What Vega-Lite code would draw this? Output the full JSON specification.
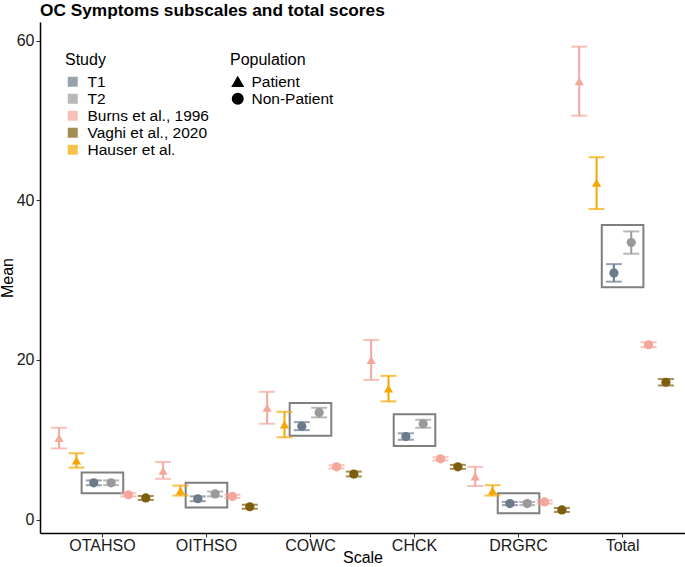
{
  "$schema": "https://vega.github.io/schema/vega-lite/v6.json",
  "autosize": {"type": "none"},
  "padding": {"left": 40, "top": 22, "right": 0, "bottom": 34},
  "width": 645,
  "height": 511,
  "background": "white",
  "title": {"text": "OC Symptoms subscales and total scores", "anchor": "start", "frame": "group", "fontSize": 17.3, "fontWeight": "bold", "color": "black", "offset": 3},
  "config": {
    "font": "Liberation Sans",
    "view": {"stroke": null},
    "axis": {"grid": false}
  },
  "datasets": {
    "pts": [
      {"Scale": "OTAHSO", "Study": "Burns et al., 1996", "Population": "Patient", "Group": "Burns-P", "Mean": 10.2, "Lower": 8.9, "Upper": 11.5},
      {"Scale": "OTAHSO", "Study": "Hauser et al.", "Population": "Patient", "Group": "Hauser-P", "Mean": 7.4, "Lower": 6.5, "Upper": 8.3},
      {"Scale": "OTAHSO", "Study": "T1", "Population": "Non-Patient", "Group": "T1", "Mean": 4.6, "Lower": 4.3, "Upper": 4.9},
      {"Scale": "OTAHSO", "Study": "T2", "Population": "Non-Patient", "Group": "T2", "Mean": 4.6, "Lower": 4.3, "Upper": 4.9},
      {"Scale": "OTAHSO", "Study": "Burns et al., 1996", "Population": "Non-Patient", "Group": "Burns-NP", "Mean": 3.1, "Lower": 2.9, "Upper": 3.3},
      {"Scale": "OTAHSO", "Study": "Vaghi et al., 2020", "Population": "Non-Patient", "Group": "Vaghi-NP", "Mean": 2.7, "Lower": 2.45, "Upper": 2.95},

      {"Scale": "OITHSO", "Study": "Burns et al., 1996", "Population": "Patient", "Group": "Burns-P", "Mean": 6.1, "Lower": 5.1, "Upper": 7.2},
      {"Scale": "OITHSO", "Study": "Hauser et al.", "Population": "Patient", "Group": "Hauser-P", "Mean": 3.6, "Lower": 3.0, "Upper": 4.25},
      {"Scale": "OITHSO", "Study": "T1", "Population": "Non-Patient", "Group": "T1", "Mean": 2.6, "Lower": 2.3, "Upper": 2.9},
      {"Scale": "OITHSO", "Study": "T2", "Population": "Non-Patient", "Group": "T2", "Mean": 3.2, "Lower": 2.9, "Upper": 3.5},
      {"Scale": "OITHSO", "Study": "Burns et al., 1996", "Population": "Non-Patient", "Group": "Burns-NP", "Mean": 2.9, "Lower": 2.7, "Upper": 3.1},
      {"Scale": "OITHSO", "Study": "Vaghi et al., 2020", "Population": "Non-Patient", "Group": "Vaghi-NP", "Mean": 1.6, "Lower": 1.35, "Upper": 1.85},

      {"Scale": "COWC", "Study": "Burns et al., 1996", "Population": "Patient", "Group": "Burns-P", "Mean": 14.0, "Lower": 12.0, "Upper": 16.0},
      {"Scale": "COWC", "Study": "Hauser et al.", "Population": "Patient", "Group": "Hauser-P", "Mean": 11.9, "Lower": 10.3, "Upper": 13.5},
      {"Scale": "COWC", "Study": "T1", "Population": "Non-Patient", "Group": "T1", "Mean": 11.7, "Lower": 11.2, "Upper": 12.2},
      {"Scale": "COWC", "Study": "T2", "Population": "Non-Patient", "Group": "T2", "Mean": 13.4, "Lower": 12.8, "Upper": 14.0},
      {"Scale": "COWC", "Study": "Burns et al., 1996", "Population": "Non-Patient", "Group": "Burns-NP", "Mean": 6.6, "Lower": 6.4, "Upper": 6.8},
      {"Scale": "COWC", "Study": "Vaghi et al., 2020", "Population": "Non-Patient", "Group": "Vaghi-NP", "Mean": 5.7, "Lower": 5.4, "Upper": 6.0},

      {"Scale": "CHCK", "Study": "Burns et al., 1996", "Population": "Patient", "Group": "Burns-P", "Mean": 20.0, "Lower": 17.5, "Upper": 22.5},
      {"Scale": "CHCK", "Study": "Hauser et al.", "Population": "Patient", "Group": "Hauser-P", "Mean": 16.4, "Lower": 14.8, "Upper": 18.0},
      {"Scale": "CHCK", "Study": "T1", "Population": "Non-Patient", "Group": "T1", "Mean": 10.4, "Lower": 10.0, "Upper": 10.8},
      {"Scale": "CHCK", "Study": "T2", "Population": "Non-Patient", "Group": "T2", "Mean": 12.0, "Lower": 11.5, "Upper": 12.5},
      {"Scale": "CHCK", "Study": "Burns et al., 1996", "Population": "Non-Patient", "Group": "Burns-NP", "Mean": 7.6, "Lower": 7.4, "Upper": 7.8},
      {"Scale": "CHCK", "Study": "Vaghi et al., 2020", "Population": "Non-Patient", "Group": "Vaghi-NP", "Mean": 6.6, "Lower": 6.35, "Upper": 6.85},

      {"Scale": "DRGRC", "Study": "Burns et al., 1996", "Population": "Patient", "Group": "Burns-P", "Mean": 5.4, "Lower": 4.2, "Upper": 6.6},
      {"Scale": "DRGRC", "Study": "Hauser et al.", "Population": "Patient", "Group": "Hauser-P", "Mean": 3.6, "Lower": 3.0, "Upper": 4.3},
      {"Scale": "DRGRC", "Study": "T1", "Population": "Non-Patient", "Group": "T1", "Mean": 2.0, "Lower": 1.8, "Upper": 2.2},
      {"Scale": "DRGRC", "Study": "T2", "Population": "Non-Patient", "Group": "T2", "Mean": 2.0, "Lower": 1.8, "Upper": 2.2},
      {"Scale": "DRGRC", "Study": "Burns et al., 1996", "Population": "Non-Patient", "Group": "Burns-NP", "Mean": 2.2, "Lower": 2.0, "Upper": 2.4},
      {"Scale": "DRGRC", "Study": "Vaghi et al., 2020", "Population": "Non-Patient", "Group": "Vaghi-NP", "Mean": 1.2, "Lower": 0.95, "Upper": 1.45},

      {"Scale": "Total", "Study": "Burns et al., 1996", "Population": "Patient", "Group": "Burns-P", "Mean": 54.9, "Lower": 50.6, "Upper": 59.25},
      {"Scale": "Total", "Study": "Hauser et al.", "Population": "Patient", "Group": "Hauser-P", "Mean": 42.2, "Lower": 38.9, "Upper": 45.4},
      {"Scale": "Total", "Study": "T1", "Population": "Non-Patient", "Group": "T1", "Mean": 30.9, "Lower": 29.8, "Upper": 32.0},
      {"Scale": "Total", "Study": "T2", "Population": "Non-Patient", "Group": "T2", "Mean": 34.7, "Lower": 33.3, "Upper": 36.1},
      {"Scale": "Total", "Study": "Burns et al., 1996", "Population": "Non-Patient", "Group": "Burns-NP", "Mean": 21.9, "Lower": 21.6, "Upper": 22.2},
      {"Scale": "Total", "Study": "Vaghi et al., 2020", "Population": "Non-Patient", "Group": "Vaghi-NP", "Mean": 17.2, "Lower": 16.8, "Upper": 17.6}
    ],
    "boxes": [
      {"Scale": "OTAHSO", "Low": 3.3, "High": 5.9},
      {"Scale": "OITHSO", "Low": 1.5, "High": 4.6},
      {"Scale": "COWC", "Low": 10.5, "High": 14.6},
      {"Scale": "CHCK", "Low": 9.2, "High": 13.2},
      {"Scale": "DRGRC", "Low": 0.8, "High": 3.3},
      {"Scale": "Total", "Low": 29.1, "High": 36.9}
    ]
  },
  "layer": [
    {
      "data": {"name": "boxes"},
      "mark": {"type": "bar", "fill": "transparent", "stroke": "#7F7F7F", "strokeWidth": 2, "width": {"band": 0.4}},
      "encoding": {
        "x": {"field": "Scale", "type": "nominal", "title": "Scale",
          "scale": {"domain": ["OTAHSO", "OITHSO", "COWC", "CHCK", "DRGRC", "Total"], "paddingInner": 0, "paddingOuter": 0.1},
          "axis": {"bandPosition": 0.5, "labelAngle": 0, "labelFontSize": 16, "labelColor": "#1A1A1A", "labelPadding": 0, "tickSize": 4, "tickColor": "#333333", "domainColor": "black", "domainWidth": 1.5, "titleFontSize": 16, "titleFontWeight": "normal", "titleColor": "black", "titlePadding": -4}},
        "y": {"field": "Low", "type": "quantitative", "title": "Mean",
          "scale": {"domain": [-1.69, 62.34], "nice": false, "zero": false},
          "axis": {"values": [0, 20, 40, 60], "labelFontSize": 16, "labelColor": "#1A1A1A", "labelPadding": 2, "tickSize": 4, "tickColor": "#333333", "domainColor": "black", "domainWidth": 1.5, "titleFontSize": 16, "titleFontWeight": "normal", "titleColor": "black", "titleX": -25}},
        "y2": {"field": "High"}
      }
    },
    {
      "data": {"name": "pts"},
      "encoding": {
        "x": {"field": "Scale", "type": "nominal", "title": "Scale"},
        "xOffset": {"field": "Group", "type": "nominal", "scale": {"domain": ["Burns-P", "Hauser-P", "T1", "T2", "Burns-NP", "Vaghi-NP"], "paddingInner": 0, "paddingOuter": 0}},
        "color": {"field": "Study", "type": "nominal",
          "scale": {"domain": ["T1", "T2", "Burns et al., 1996", "Vaghi et al., 2020", "Hauser et al."], "range": ["#6C7A8C", "#9A9A9A", "#F4A79D", "#7E5E0C", "#F5A700"]},
          "legend": {"orient": "none", "legendX": 25, "legendY": 30, "title": "Study", "titleFontSize": 16, "titleFontWeight": "normal", "titleColor": "black", "titlePadding": 6, "labelFontSize": 15.5, "labelColor": "black", "labelOffset": 7, "symbolType": "square", "symbolSize": 100, "symbolOpacity": 0.7, "symbolStrokeWidth": 0, "rowPadding": -2.5}}
      },
      "layer": [
        {"mark": {"type": "rule", "strokeWidth": 2}, "encoding": {"y": {"field": "Lower", "type": "quantitative", "title": "Mean"}, "y2": {"field": "Upper"}}},
        {"mark": {"type": "tick", "size": 16, "thickness": 2}, "encoding": {"y": {"field": "Lower", "type": "quantitative", "title": "Mean"}}},
        {"mark": {"type": "tick", "size": 16, "thickness": 2}, "encoding": {"y": {"field": "Upper", "type": "quantitative", "title": "Mean"}}},
        {"mark": {"type": "point", "filled": true, "opacity": 1, "size": 85}, "encoding": {
          "y": {"field": "Mean", "type": "quantitative", "title": "Mean"},
          "shape": {"field": "Population", "type": "nominal", "scale": {"domain": ["Patient", "Non-Patient"], "range": ["triangle-up", "circle"]},
            "legend": {"orient": "none", "legendX": 190, "legendY": 30, "title": "Population", "titleFontSize": 16, "titleFontWeight": "normal", "titleColor": "black", "titlePadding": 6, "labelFontSize": 15.5, "labelColor": "black", "labelOffset": 6, "symbolSize": 110, "symbolFillColor": "black", "symbolStrokeColor": "black", "rowPadding": -2.5}}
        }}
      ]
    }
  ]
}
